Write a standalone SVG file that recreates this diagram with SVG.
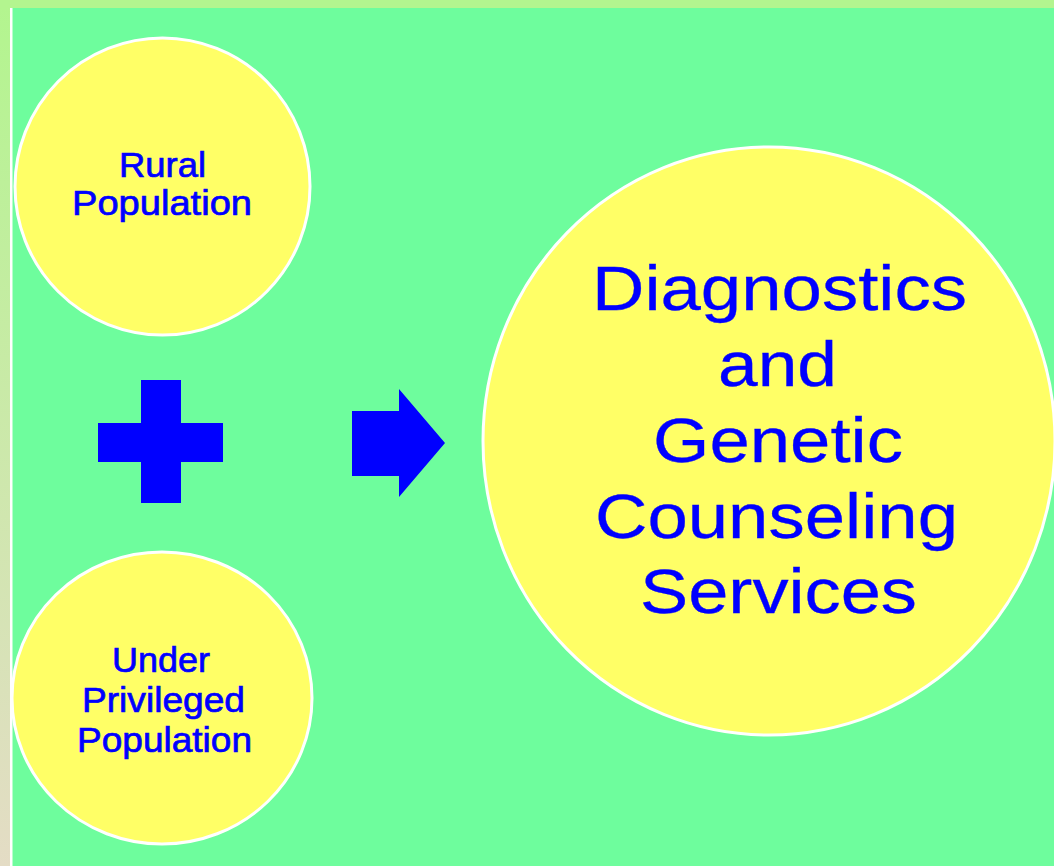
<svg xmlns="http://www.w3.org/2000/svg" width="1054" height="866" viewBox="0 0 1054 866">
  <defs>
    <linearGradient id="sideGrad" x1="0" y1="0" x2="0" y2="1">
      <stop offset="0" stop-color="#b3f58f"/>
      <stop offset="1" stop-color="#e4dcc5"/>
    </linearGradient>
    <style>
      .bubble { fill: #ffff66; stroke: #ffffff; stroke-width: 3; }
      .sym { fill: #0000ff; }
      .lbl { font-family: "Liberation Sans", Arial, sans-serif; fill: #0000ff; text-anchor: middle; }
      .small { font-size: 34.5px; stroke: #0000ff; stroke-width: 0.7; }
      .big { font-size: 63px; stroke: #0000ff; stroke-width: 0.3; }
    </style>
  </defs>

  <!-- background -->
  <rect x="0" y="0" width="1054" height="866" fill="#6efd9d"/>
  <rect x="0" y="0" width="1054" height="8" fill="#b3f58f"/>
  <rect x="0" y="8" width="10" height="858" fill="url(#sideGrad)"/>
  <rect x="10" y="8" width="2.5" height="858" fill="#ffffff"/>

  <g id="rural">
    <ellipse class="bubble" cx="162.5" cy="186.5" rx="147.5" ry="148.5"/>
    <text class="lbl small" x="162.5" y="177" textLength="87" lengthAdjust="spacingAndGlyphs">Rural</text>
    <text class="lbl small" x="162" y="215" textLength="180" lengthAdjust="spacingAndGlyphs">Population</text>
  </g>

  <g id="underprivileged">
    <ellipse class="bubble" cx="162" cy="698" rx="150" ry="146"/>
    <text class="lbl small" x="161" y="672" textLength="98" lengthAdjust="spacingAndGlyphs">Under</text>
    <text class="lbl small" x="163.5" y="712" textLength="163" lengthAdjust="spacingAndGlyphs">Privileged</text>
    <text class="lbl small" x="164.5" y="752" textLength="175" lengthAdjust="spacingAndGlyphs">Population</text>
  </g>

  <g id="services">
    <ellipse class="bubble" cx="769" cy="441" rx="286" ry="294"/>
    <text class="lbl big" x="779.5" y="310" textLength="375" lengthAdjust="spacingAndGlyphs">Diagnostics</text>
    <text class="lbl big" x="777.5" y="386" textLength="119" lengthAdjust="spacingAndGlyphs">and</text>
    <text class="lbl big" x="778" y="462" textLength="250" lengthAdjust="spacingAndGlyphs">Genetic</text>
    <text class="lbl big" x="776.5" y="538" textLength="363" lengthAdjust="spacingAndGlyphs">Counseling</text>
    <text class="lbl big" x="778.5" y="613" textLength="277" lengthAdjust="spacingAndGlyphs">Services</text>
  </g>

  <g id="connectors">
    <g id="plus">
      <rect class="sym" x="141" y="380" width="40" height="123"/>
      <rect class="sym" x="98" y="423" width="125" height="39"/>
    </g>
    <g id="arrow">
      <polygon class="sym" points="352,411 399,411 399,389 445,443 399,497 399,476 352,476"/>
    </g>
  </g>
</svg>
